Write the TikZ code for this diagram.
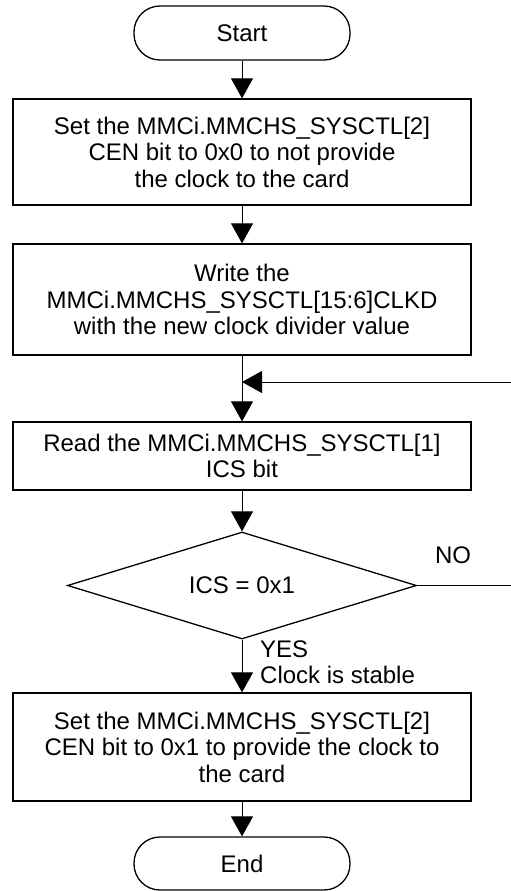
\documentclass[tikz,border=0pt]{standalone}
\usepackage{fontspec}
\setmainfont{Liberation Sans}
\usetikzlibrary{shapes.geometric,arrows.meta}
\begin{document}
\begin{tikzpicture}[x=1pt,y=1pt,
  every node/.style={font=\fontsize{24}{26.5}\selectfont},
  term/.style={draw,line width=1.3pt,rectangle,rounded corners=26pt,minimum width=216pt,inner sep=0pt},
  proc/.style={draw,line width=1.3pt,rectangle,minimum width=458pt,inner sep=0pt,align=center},
  dec/.style={draw,line width=1.3pt,diamond,aspect=3.26,minimum width=349pt,minimum height=107pt,inner sep=0pt},
  conn/.style={line width=1pt,-{Triangle[length=20pt,width=22pt]}},
  lbl/.style={inner sep=0pt,align=left}
]
\useasboundingbox (0,0) rectangle (511,-891);
\node[term,minimum height=54pt] (start) at (242,-33) {Start};
\node[proc,minimum height=106pt] (b1) at (242,-152) {Set the MMCi.MMCHS\_SYSCTL[2]\\CEN bit to 0x0 to not provide\\the clock to the card};
\node[proc,minimum height=111pt] (b2) at (242,-299.5) {Write the\\MMCi.MMCHS\_SYSCTL[15:6]CLKD\\with the new clock divider value};
\node[proc,minimum height=68pt] (b3) at (242,-456) {Read the MMCi.MMCHS\_SYSCTL[1]\\ICS bit};
\node[dec] (d) at (242,-585.5) {ICS = 0x1};
\node[proc,minimum height=108pt] (b4) at (242,-747) {Set the MMCi.MMCHS\_SYSCTL[2]\\CEN bit to 0x1 to provide the clock to\\the card};
\node[term,minimum height=53pt] (end) at (242,-863.5) {End};
\node[lbl,anchor=center] (no) at (453,-555) {NO};
\node[lbl,anchor=west] (yes) at (260,-662) {YES\\Clock is stable};
\coordinate (nr) at (513,-585.5);
\coordinate (lp) at (242,-382);
\draw[conn] (start) -- (b1);
\draw[conn] (b1) -- (b2);
\draw[conn] (b2) -- (b3);
\draw[conn] (b3) -- (d);
\draw[conn] (d) -- (b4);
\draw[conn] (b4) -- (end);
\draw[conn] (d.east) -- (nr) |- (lp);
\end{tikzpicture}
\end{document}
